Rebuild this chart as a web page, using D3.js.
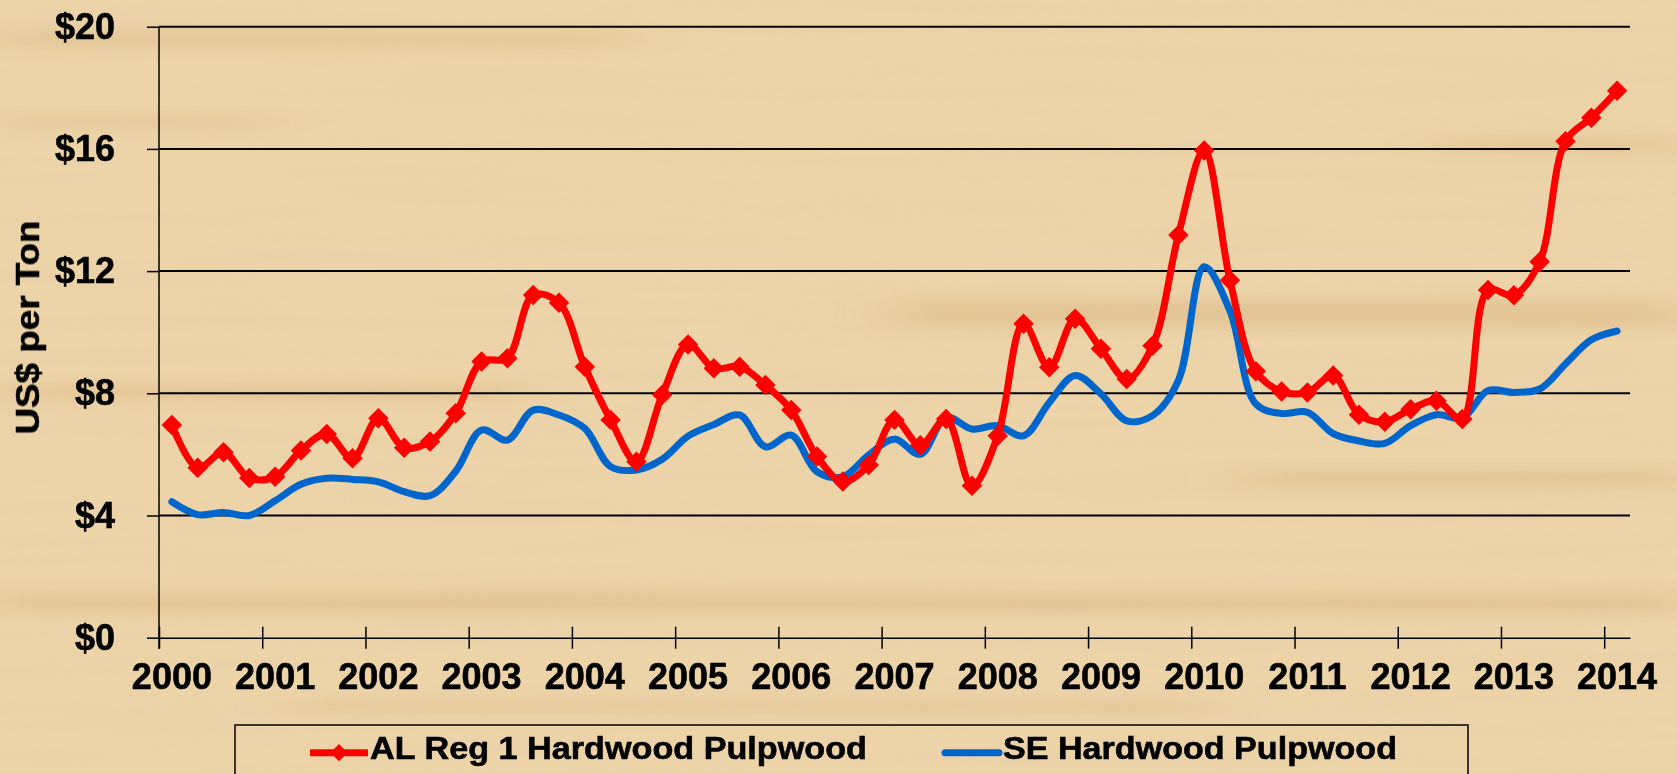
<!DOCTYPE html>
<html>
<head>
<meta charset="utf-8">
<script src="https://cdn.jsdelivr.net/npm/d3@7"></script>
<style>
  body { margin: 0; overflow: hidden; background: #ecd3a8; }
  text { font-family: "Liberation Sans", Arial, sans-serif; font-weight: bold; fill: #000; }
</style>
</head>
<body>
<script>
const yearLabels = ["2000", "2001", "2002", "2003", "2004", "2005", "2006", "2007",
  "2008", "2009", "2010", "2011", "2012", "2013", "2014"];
const quarterNames = ["Q1", "Q2", "Q3", "Q4"];
const priceTicks = [0, 4, 8, 12, 16, 20];
const seriesNames = ["AL Reg 1 Hardwood Pulpwood", "SE Hardwood Pulpwood"];

// quarterly, 2000 Q1 .. 2014 Q1
const alReg1 = [
  6.96, 5.56, 6.07, 5.23, 5.27, 6.13, 6.67, 5.87, 7.18, 6.22, 6.42, 7.35,
  9.04, 9.15, 11.22, 10.96, 8.87, 7.13, 5.76, 7.95, 9.6, 8.82, 8.87, 8.27,
  7.45, 5.93, 5.11, 5.65, 7.13, 6.3, 7.16, 4.97, 6.61, 10.28, 8.85, 10.44,
  9.46, 8.47, 9.56, 13.18, 15.95, 11.7, 8.72, 8.06, 8.03, 8.58, 7.3, 7.07,
  7.48, 7.76, 7.16, 11.38, 11.21, 12.31, 16.25, 17.02, 17.9
];
const seHardwood = [
  4.45, 4.03, 4.1, 4.0, 4.48, 5.02, 5.22, 5.18, 5.1, 4.78, 4.65, 5.45,
  6.8, 6.47, 7.45, 7.29, 6.85, 5.6, 5.49, 5.84, 6.6, 6.98, 7.29, 6.25,
  6.63, 5.43, 5.27, 5.98, 6.5, 6.0, 7.21, 6.83, 6.94, 6.61, 7.7, 8.58,
  7.98, 7.1, 7.27, 8.42, 12.14, 10.7, 7.65, 7.34, 7.38, 6.68, 6.44, 6.36,
  6.94, 7.3, 7.19, 8.09, 8.03, 8.14, 8.96, 9.75, 10.04
];

const quarters = yearLabels
  .flatMap((y) => quarterNames.map((q) => y + " " + q))
  .slice(0, alReg1.length);

const width = 1677;
const height = 774;
const plotLeft = 159;
const plotRight = 1630;
const plotTop = 26.7;
const plotBottom = 637.7;

const svg = d3.select("body").append("svg")
  .attr("width", width)
  .attr("height", height);

// wood background
const defs = svg.append("defs");
const wood = defs.append("filter").attr("id", "wood")
  .attr("x", 0).attr("y", 0).attr("width", "100%").attr("height", "100%");
wood.append("feTurbulence")
  .attr("type", "fractalNoise")
  .attr("baseFrequency", "0.003 0.06")
  .attr("numOctaves", 3)
  .attr("seed", 11);
wood.append("feColorMatrix")
  .attr("type", "matrix")
  .attr("values", "0 0 0 0 0.80  0 0 0 0 0.62  0 0 0 0 0.40  0 0 0 -2.5 1.45");
const blur = defs.append("filter").attr("id", "blur")
  .attr("x", "-20%").attr("y", "-300%").attr("width", "140%").attr("height", "700%");
blur.append("feGaussianBlur").attr("stdDeviation", "30 6");

svg.append("rect").attr("width", width).attr("height", height).attr("fill", "#ecd3a8");
svg.append("rect").attr("width", width).attr("height", height)
  .attr("filter", "url(#wood)").attr("opacity", 0.3);

const streaks = [
  [0, 32, 620, 14], [0, 118, 260, 8], [900, 300, 777, 28], [1250, 470, 427, 18],
  [0, 385, 520, 14], [0, 592, 1677, 20], [300, 702, 900, 10], [1450, 138, 227, 14]
];
svg.append("g").attr("filter", "url(#blur)")
  .selectAll("rect").data(streaks).join("rect")
  .attr("x", (d) => d[0]).attr("y", (d) => d[1])
  .attr("width", (d) => d[2]).attr("height", (d) => d[3])
  .attr("fill", "#d6ad76").attr("opacity", 0.35);

// scales
const x = d3.scaleBand().domain(quarters).range([plotLeft, plotRight]);
const xIndex = d3.scaleLinear().domain([0, quarters.length]).range([plotLeft, plotRight]);
const y = d3.scaleLinear().domain([0, 20]).range([plotBottom, plotTop]);
const cx = (q) => x(q) + x.bandwidth() / 2;

// gridlines
svg.append("g")
  .selectAll("line").data(priceTicks.filter((d) => d > 0)).join("line")
  .attr("x1", plotLeft).attr("x2", plotRight)
  .attr("y1", (d) => y(d)).attr("y2", (d) => y(d))
  .attr("stroke", "#000").attr("stroke-width", 2);

const boldText = (sel, size) => sel
  .attr("font-size", size)
  .attr("font-family", "Liberation Sans, Arial, sans-serif")
  .attr("font-weight", "bold")
  .attr("fill", "#000")
  .attr("stroke", "#000")
  .attr("stroke-width", 0.6);

// y axis
const yAxis = svg.append("g")
  .attr("transform", `translate(${plotLeft},0)`)
  .call(d3.axisLeft(y).tickValues(priceTicks).tickSize(12).tickPadding(32)
    .tickFormat((d) => "$" + d));
yAxis.select(".domain").attr("stroke", "#000").attr("stroke-width", 1.5)
  .attr("d", `M0,${plotBottom + 11}V${plotTop}`);
yAxis.selectAll(".tick line").attr("stroke", "#000").attr("stroke-width", 1.5);
boldText(yAxis.selectAll(".tick text"), 36);

// x axis: ticks at year boundaries, labels at first quarter of each year
const yearStarts = d3.range(0, quarters.length, 4);
const xAxis = svg.append("g")
  .attr("transform", `translate(0,${plotBottom})`)
  .call(d3.axisBottom(xIndex).tickValues(yearStarts).tickSize(11).tickSizeOuter(0)
    .tickFormat(""));
xAxis.select(".domain").attr("stroke", "#000").attr("stroke-width", 1.5);
xAxis.selectAll(".tick line").attr("y1", -11).attr("stroke", "#000").attr("stroke-width", 1.5);

const xLabels = svg.append("g")
  .attr("transform", `translate(0,${plotBottom})`)
  .call(d3.axisBottom(x).tickValues(yearStarts.map((i) => quarters[i]))
    .tickSize(0).tickPadding(26).tickFormat((q) => q.slice(0, 4)));
xLabels.select(".domain").remove();
boldText(xLabels.selectAll(".tick text"), 36);

// axis title
boldText(svg.append("text"), 33)
  .attr("transform", "translate(39,327.5) rotate(-90)")
  .attr("text-anchor", "middle")
  .attr("textLength", 214)
  .attr("lengthAdjust", "spacingAndGlyphs")
  .text("US$ per Ton");

// lines
const line = d3.line()
  .x((d, i) => cx(quarters[i]))
  .y((d) => y(d))
  .curve(d3.curveCatmullRom);

svg.append("path").datum(seHardwood)
  .attr("d", line).attr("fill", "none")
  .attr("stroke", "#0066cc").attr("stroke-width", 7)
  .attr("stroke-linejoin", "round").attr("stroke-linecap", "round");

svg.append("path").datum(alReg1)
  .attr("d", line).attr("fill", "none")
  .attr("stroke", "#ff0000").attr("stroke-width", 7)
  .attr("stroke-linejoin", "round");

const diamond = d3.symbol().type(d3.symbolSquare).size(210);
svg.append("g")
  .selectAll("path").data(alReg1).join("path")
  .attr("d", diamond)
  .attr("transform", (d, i) => `translate(${cx(quarters[i])},${y(d)}) rotate(45)`)
  .attr("fill", "#ff0000");

// legend
const legend = svg.append("g");
legend.append("rect")
  .attr("x", 235).attr("y", 725).attr("width", 1233).attr("height", 70)
  .attr("fill", "none").attr("stroke", "#000").attr("stroke-width", 1.5);

legend.append("line")
  .attr("x1", 310).attr("x2", 368).attr("y1", 752.7).attr("y2", 752.7)
  .attr("stroke", "#ff0000").attr("stroke-width", 7);
legend.append("path")
  .attr("d", d3.symbol().type(d3.symbolSquare).size(150))
  .attr("transform", "translate(339,752.7) rotate(45)")
  .attr("fill", "#ff0000");
boldText(legend.append("text"), 32)
  .attr("x", 370).attr("y", 759)
  .attr("textLength", 497)
  .attr("lengthAdjust", "spacingAndGlyphs")
  .text(seriesNames[0]);

legend.append("line")
  .attr("x1", 945).attr("x2", 999).attr("y1", 752.7).attr("y2", 752.7)
  .attr("stroke", "#0066cc").attr("stroke-width", 7)
  .attr("stroke-linecap", "round");
boldText(legend.append("text"), 32)
  .attr("x", 1003).attr("y", 759)
  .attr("textLength", 394)
  .attr("lengthAdjust", "spacingAndGlyphs")
  .text(seriesNames[1]);
</script>
</body>
</html>
